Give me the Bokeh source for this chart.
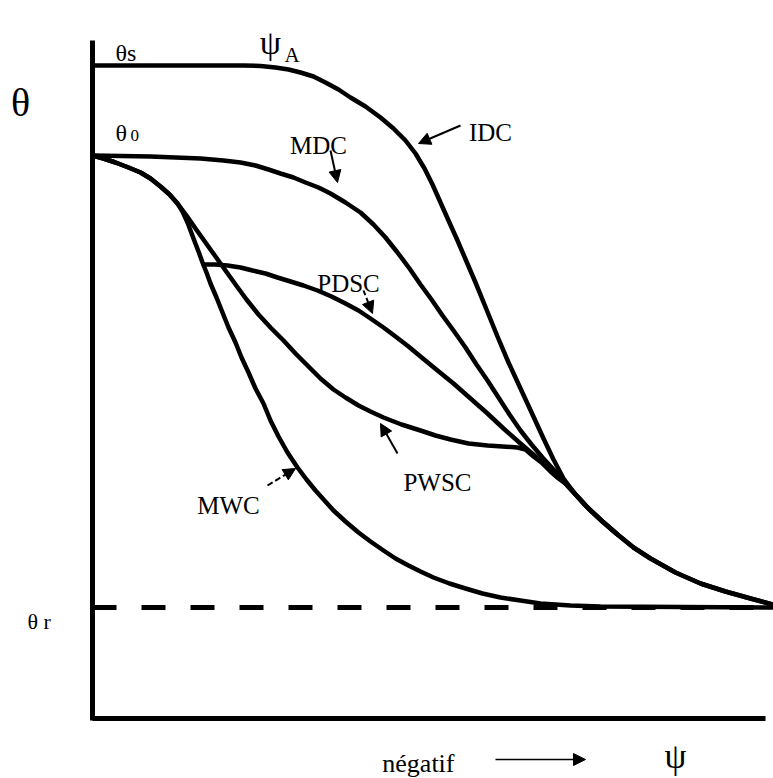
from bokeh.plotting import figure
from bokeh.models import Range1d, Arrow, NormalHead
from bokeh.core.properties import value
from bokeh.embed import file_html
from bokeh.resources import INLINE

# ---- data (psi units along x, theta units along y) ----
theta_s = 653
theta_0 = 563
theta_r = 111
psi_max = 680

# IDC : initial drainage curve (starts at theta_s)
idc_x = [0, 151, 168, 183, 196, 208, 221, 233, 246, 258, 273, 288, 301, 313, 323, 332, 340, 348, 356,
         365, 374, 383, 394, 405, 416, 428, 440, 451, 461, 471, 483, 495, 510, 525, 541, 558, 583,
         608, 633, 658, 680]
idc_y = [653, 653, 652.5, 651, 649, 646, 642, 636, 629, 621, 612, 601, 590, 578, 565, 550, 534, 516, 498,
         478, 457, 436, 409, 382, 356, 330, 304, 280, 259, 240, 224, 211, 197, 184, 171, 160, 146,
         135, 127, 120, 114]

# MDC : main drainage curve (starts at theta_0)
mdc_x = [0, 58, 108, 131, 148, 163, 176, 188, 201, 213, 226, 238, 253, 268, 281, 293, 305, 317, 328,
         339, 350, 361, 373, 384, 395, 406, 417, 428, 439, 450, 461, 473, 484, 495, 510, 525, 541,
         558, 583, 608, 633, 658, 680]
mdc_y = [563, 562, 560, 558, 556, 553, 549, 545, 541, 536, 531, 525, 516, 506, 494, 481, 466, 450, 434,
         419, 403, 388, 371, 354, 338, 321, 304, 288, 274, 261, 249, 235, 223, 211, 197, 184, 171,
         160, 146, 135, 127, 120, 114]

# PDSC : primary drying scanning curve
pdsc_x = [111, 123, 135, 148, 160, 173, 185, 198, 211, 225, 239, 253, 266, 278, 291, 303, 316, 328,
          345, 361, 378, 395, 411, 428, 442, 455, 464, 473, 484, 495, 510, 525]
pdsc_y = [454, 454, 453, 451, 448, 445, 441, 437, 433, 428, 422, 415, 408, 400, 391, 382, 372, 362,
          348, 335, 320, 305, 290, 275, 263, 251, 243, 235, 223, 211, 197, 184]

# PWSC : primary wetting scanning curve
pwsc_x = [0, 11, 23, 36, 48, 58, 68, 77, 85, 94, 103, 113, 123, 133, 143, 154, 166, 178, 191, 203,
          216, 228, 241, 253, 266, 278, 291, 309, 328, 343, 358, 376, 395, 410, 425, 433, 441, 449,
          458, 466, 473, 484, 495]
pwsc_y = [563, 560, 556, 551, 546, 540, 532, 524, 515, 503, 490, 476, 462, 448, 434, 419, 404, 391, 378, 365,
          352, 340, 329, 321, 313, 307, 301, 294, 288, 283, 279, 275, 273, 272, 271, 269, 262, 256,
          247, 240, 235, 223, 211]

# MWC : main wetting curve
mwc_x = [0, 11, 23, 36, 48, 58, 68, 77, 85, 90, 95, 101, 106, 110, 114, 118, 124, 130, 136, 143, 149,
         156, 163, 171, 178, 186, 195, 205, 214, 223, 232, 241, 253, 266, 278, 291, 303, 316, 328, 341,
         357, 373, 390, 408, 428, 448, 478, 508, 680]
mwc_y = [563, 560, 556, 551, 546, 540, 532, 524, 515, 507, 496, 480, 467, 456, 446, 435, 421, 406, 391, 376, 361,
         346, 330, 315, 298, 282, 266, 251, 239, 228, 218, 208, 197, 186, 177, 168, 160, 153, 147, 141,
         135, 130, 125, 121, 118, 115, 113, 112, 111]

# ---- figure ----
SERIF = value("Liberation Serif")

p = figure(width=773, height=778,
           x_range=Range1d(-92, 681), y_range=Range1d(-60, 718),
           x_axis_type=None, y_axis_type=None,
           output_backend="svg", toolbar_location=None, min_border=0)
p.grid.visible = False
p.outline_line_color = None
p.background_fill_color = "white"
p.border_fill_color = "white"

# axes drawn as lines
p.line(x=[0, 0], y=[-2, 678], line_color="black", line_width=5)
p.line(x=[0, 673], y=[0, 0], line_color="black", line_width=5)

# residual water content (dashed)
p.line(x=[0, psi_max], y=[theta_r, theta_r], line_color="black", line_width=5, line_dash="24 25")

for xs, ys in [(idc_x, idc_y), (mdc_x, mdc_y), (pdsc_x, pdsc_y), (pwsc_x, pwsc_y), (mwc_x, mwc_y)]:
    p.line(x=xs, y=ys, line_color="black", line_width=4.5, line_join="round", line_cap="round")

# ---- labels ----
def txt(x, y, s, size, align="left", baseline="alphabetic"):
    p.text(x=[x], y=[y], text=[s], text_font=SERIF, text_font_size=size,
           text_align=align, text_baseline=baseline, text_color="black")

txt(-72, 616, "θ", "40px", "center", "middle")
txt(23, 666, "θs", "24px")
txt(23, 586, "θ", "24px")
txt(38, 583, "0", "17px")
txt(178, 676, "ψ", "34px", "center", "middle")
txt(192, 664, "A", "21px")
txt(226, 573, "MDC", "25px", "center")
txt(398, 586, "IDC", "25px", "center")
txt(256, 435, "PDSC", "25px", "center")
txt(345, 236, "PWSC", "25px", "center")
txt(136, 213, "MWC", "25px", "center")
txt(-65, 97, "θ r", "22px")
txt(362, -45, "négatif", "26px", "right")
txt(583, -38, "ψ", "35px", "center", "middle")

# ---- arrows ----
def arr(x0, y0, x1, y1, dash="solid", size=12, lw=2):
    p.add_layout(Arrow(end=NormalHead(size=size, fill_color="black", line_color="black"),
                       x_start=x0, y_start=y0, x_end=x1, y_end=y1,
                       line_color="black", line_width=lw, line_dash=dash))

arr(368, 593, 326, 575)           # IDC
arr(238, 568, 245, 536)           # MDC
arr(271, 428, 280, 405, "5 3")    # PDSC
arr(305, 265, 288, 295)           # PWSC
arr(175, 233, 203, 250, "6 3")    # MWC
arr(403, -41, 493, -41, size=12, lw=1.5)  # négatif -> psi

open("out.html", "w").write(file_html(p, INLINE))
